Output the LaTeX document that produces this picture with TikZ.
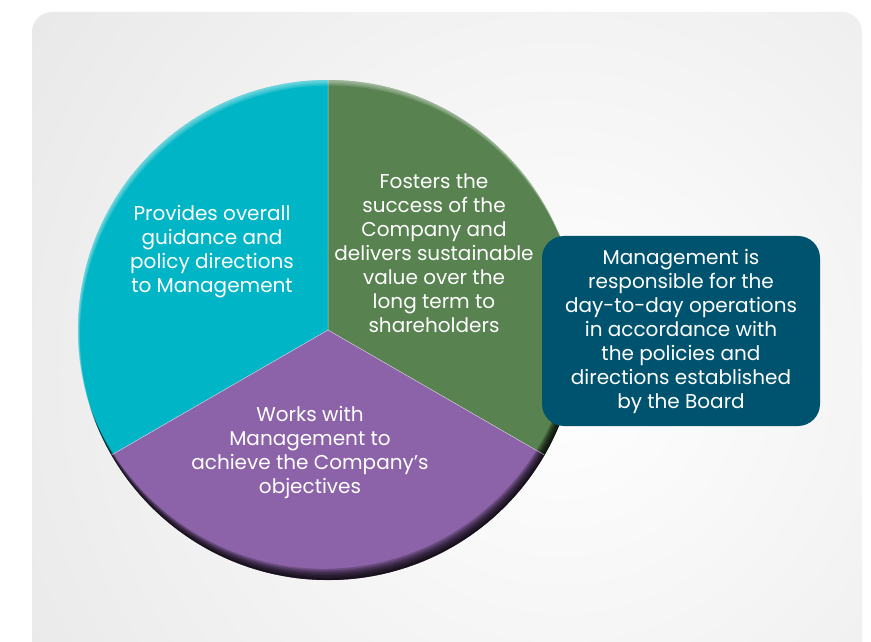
\documentclass[tikz,border=0pt]{standalone}
\usepackage{fontspec}
\setmainfont{Poppins}
\usetikzlibrary{calc}

\definecolor{panelgray}{HTML}{DCDCDC}
\definecolor{segcyan}{HTML}{00B5C5}
\definecolor{seggreen}{HTML}{588250}
\definecolor{segpurple}{HTML}{8C63A8}
\definecolor{mgmtblue}{HTML}{00536F}

\tikzset{
  seglabel/.style={text=white, align=center, font=\fontsize{20}{24}\selectfont},
  mgmtbox/.style={seglabel, fill=mgmtblue, rounded corners=22pt,
    minimum width=278pt, minimum height=190pt, inner sep=0pt},
}

\begin{document}
\begin{tikzpicture}[x=1pt,y=1pt]
\clip (0,0) rectangle (871,641);
\fill[white] (0,0) rectangle (871,641);

% grey panel behind the pie
\begin{scope}
\clip[rounded corners=20pt] (32,629) rectangle (862,-40);
\shade[inner color=white, outer color=panelgray] (560,270) circle (1000pt);
\end{scope}

% the three sectors
\coordinate (c) at (328,311);
\fill[seggreen] (c) -- ++(90:250) arc[start angle=90, end angle=-30, radius=250pt] -- cycle;
\fill[segcyan] (c) -- ++(90:250) arc[start angle=90, end angle=210, radius=250pt] -- cycle;
\fill[segpurple] (c) -- ++(210:250) arc[start angle=210, end angle=330, radius=250pt] -- cycle;

% bevel: light rim on top, dark rim at the bottom
\begin{scope}
\clip (c) circle (250pt);
\foreach \s in {1,...,7}
  \fill[black, opacity=0.21, even odd rule] (c) circle (260pt) ($(c)+(-0.6*\s,1.6*\s)$) circle (250pt);
\foreach \s in {1,...,4}
  \fill[white, opacity=0.13, even odd rule] (c) circle (260pt) ($(c)+(0.5*\s,-1.4*\s)$) circle (250pt);
\draw[white, opacity=0.6, line width=0.5pt] (c) -- ++(90:250) (c) -- ++(210:250) (c) -- ++(-30:250);
\end{scope}

% sector texts
\node[seglabel] (guide) at (212,389) {Provides overall\\guidance and\\policy directions\\to Management};
\node[seglabel] (foster) at (434,388) {Fosters the\\success of the\\Company and\\delivers sustainable\\value over the\\long term to\\shareholders};
\node[seglabel] (works) at (310,189) {Works with\\Management to\\achieve the Company’s\\objectives};

% management box on the right
\node[mgmtbox] (mgmt) at (681,310) {Management is\\responsible for the\\day-to-day operations\\in accordance with\\the policies and\\directions established\\by the Board};
\end{tikzpicture}
\end{document}
